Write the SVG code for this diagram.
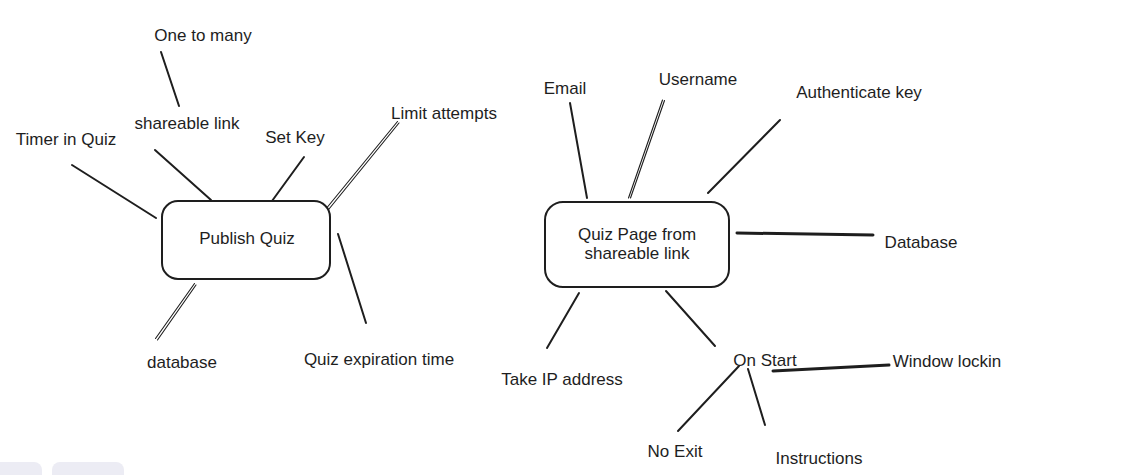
<svg xmlns="http://www.w3.org/2000/svg" width="1127" height="475" viewBox="0 0 1127 475">
<style>
.bg{fill:#ffffff}
.box{fill:#ffffff;stroke:#1e1e1e;stroke-width:2}
.ln{stroke:#1e1e1e;stroke-width:2;stroke-linecap:round;fill:none}
.thin{stroke:#1e1e1e;stroke-width:1.1;stroke-linecap:round;fill:none}
.thick{stroke:#1e1e1e;stroke-width:3;stroke-linecap:round;fill:none}
text{font-family:"Liberation Sans",Arial,sans-serif;font-size:17px;fill:#1e1e1e;text-anchor:middle;dominant-baseline:central}
.ui{fill:#ececf4}
</style>
<rect class="bg" x="0" y="0" width="1127" height="475"/>
<g id="connectors">
<line class="ln" x1="161" y1="52" x2="179" y2="106"/>
<line class="ln" x1="155" y1="150" x2="211" y2="200"/>
<line class="ln" x1="72" y1="165" x2="156" y2="218"/>
<line class="ln" x1="304" y1="157" x2="272" y2="201"/>
<line class="thin" x1="397.5" y1="121.5" x2="320.5" y2="215.5"/>
<line class="thin" x1="399" y1="123" x2="322.5" y2="217"/>
<line class="ln" x1="338" y1="234" x2="366" y2="323"/>
<line class="thin" x1="194.5" y1="283.5" x2="155.5" y2="338.5"/>
<line class="thin" x1="196" y1="285" x2="157.5" y2="340"/>
<line class="ln" x1="570" y1="103" x2="587" y2="198"/>
<line class="thin" x1="662.5" y1="100" x2="628.5" y2="198"/>
<line class="thin" x1="664.5" y1="100.5" x2="630.5" y2="198"/>
<line class="ln" x1="780" y1="120" x2="708" y2="193"/>
<line class="thick" x1="737" y1="233" x2="873" y2="235"/>
<line class="ln" x1="579" y1="293" x2="547" y2="348"/>
<line class="ln" x1="666" y1="291" x2="715" y2="346"/>
<line class="thick" x1="773" y1="371" x2="889" y2="365"/>
<line class="ln" x1="739" y1="366" x2="678" y2="431"/>
<line class="ln" x1="748" y1="369" x2="765" y2="425"/>
</g>
<g id="node-publish-quiz">
<rect class="box" x="162" y="201" width="168" height="78" rx="16"/>
<text x="247" y="238">Publish Quiz</text>
</g>
<g id="node-quiz-page">
<rect class="box" x="545" y="202" width="184" height="85" rx="18"/>
<text x="637" y="234">Quiz Page from</text>
<text x="637" y="253">shareable link</text>
</g>
<g id="label-one-to-many"><text x="203" y="35">One to many</text></g>
<g id="label-shareable-link"><text x="187" y="123">shareable link</text></g>
<g id="label-timer"><text x="66" y="139">Timer in Quiz</text></g>
<g id="label-set-key"><text x="295" y="137">Set Key</text></g>
<g id="label-limit-attempts"><text x="444" y="113">Limit attempts</text></g>
<g id="label-database-left"><text x="182" y="362">database</text></g>
<g id="label-expiration"><text x="379" y="359">Quiz expiration time</text></g>
<g id="label-email"><text x="565" y="88">Email</text></g>
<g id="label-username"><text x="698" y="79">Username</text></g>
<g id="label-auth-key"><text x="859" y="92">Authenticate key</text></g>
<g id="label-database-right"><text x="921" y="242">Database</text></g>
<g id="label-on-start"><text x="765" y="360">On Start</text></g>
<g id="label-take-ip"><text x="562" y="379">Take IP address</text></g>
<g id="label-window-lockin"><text x="947" y="361">Window lockin</text></g>
<g id="label-no-exit"><text x="675" y="451">No Exit</text></g>
<g id="label-instructions"><text x="819" y="458">Instructions</text></g>
<rect class="ui" x="-8" y="462" width="50" height="24" rx="8"/>
<rect class="ui" x="52" y="462" width="72" height="24" rx="8"/>
</svg>
